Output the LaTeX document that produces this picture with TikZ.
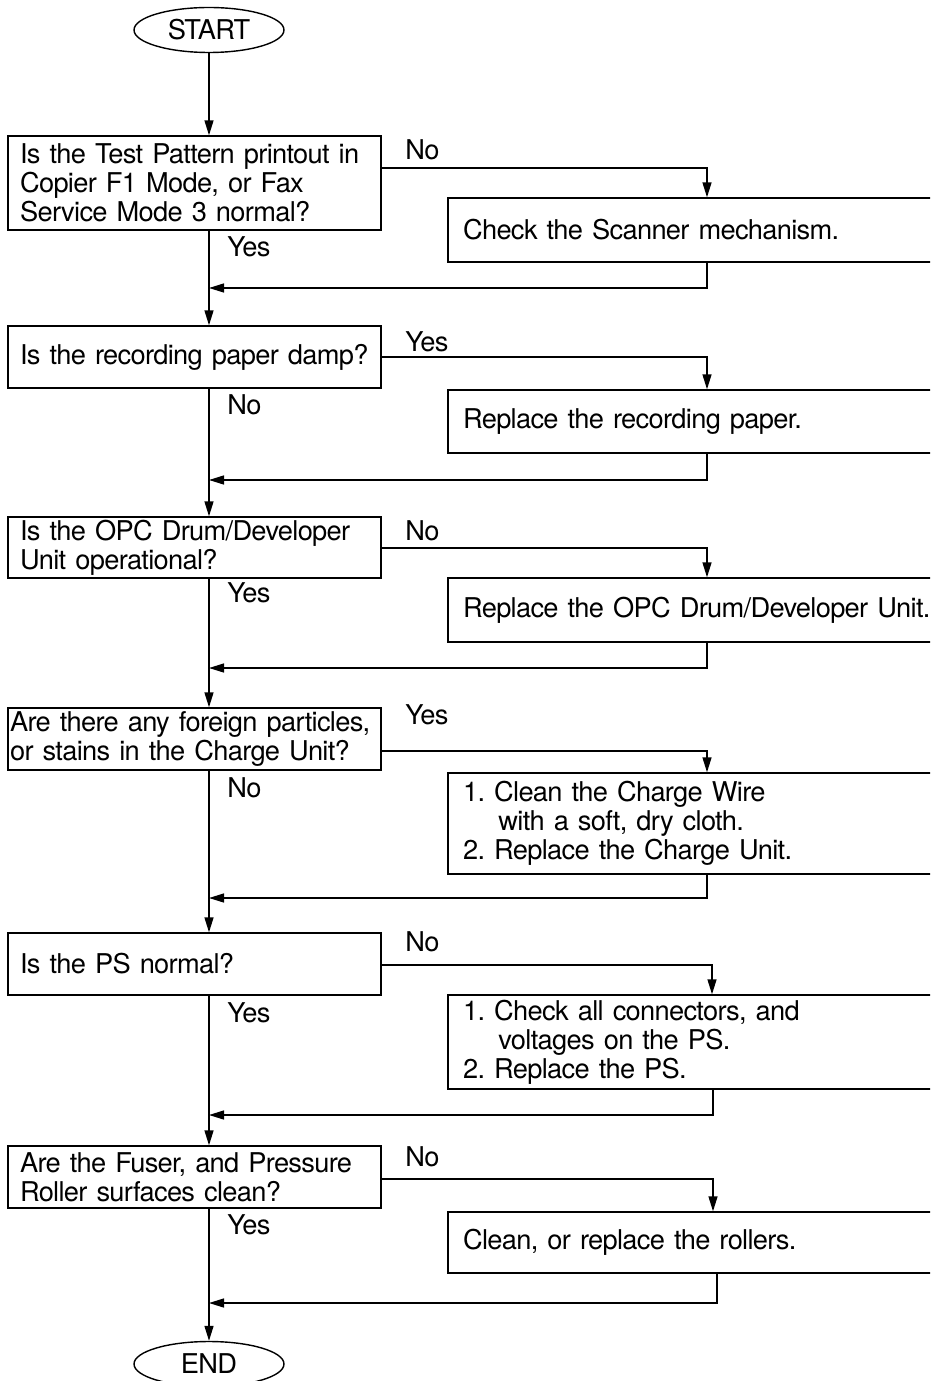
\documentclass[tikz,border=0pt]{standalone}
\usepackage{fontspec}
\setmainfont{TeX Gyre Heros}[LetterSpace=-2.5]
\usetikzlibrary{arrows.meta,shapes.geometric}

\tikzset{
  flow/.style={line width=0.8pt},
  arr/.style={flow,-{Triangle[length=0.3cm,width=0.18cm]}},
  term/.style={draw,flow,ellipse,minimum width=3cm,minimum height=0.9cm,inner sep=0pt},
  qbox/.style={draw,flow,rectangle,inner xsep=0.24cm,inner ysep=0pt,text width=6.98cm,align=left},
  abox/.style={draw,flow,rectangle,inner xsep=0.3cm,inner ysep=0pt,text width=9.64cm,align=left},
  lbl/.style={anchor=west,inner sep=0pt}
}

\begin{document}
\frenchspacing
\begin{tikzpicture}[x=0.02cm,y=-0.02cm,font=\fontsize{15.5}{16.6}\selectfont]
  \clip (0,0) rectangle (930,1381);
  % start and end
  \node[term] (start) at (209,30) {START};
  \node[term] (end) at (209,1364) {END};
  % questions
  \node[qbox,minimum height=1.88cm] (q1) at (194.5,183)
    {Is the Test Pattern printout in\\Copier F1 Mode, or Fax\\Service Mode 3 normal?};
  \node[qbox,minimum height=1.24cm] (q2) at (194.5,357) {Is the recording paper damp?};
  \node[qbox,minimum height=1.22cm] (q3) at (194.5,547.5)
    {Is the OPC Drum/Developer\\Unit operational?};
  \node[qbox,minimum height=1.24cm,inner xsep=0.04cm,text width=7.38cm] (q4) at (194.5,739)
    {Are there any foreign particles,\\or stains in the Charge Unit?};
  \node[qbox,minimum height=1.24cm] (q5) at (194.5,964) {Is the PS normal?};
  \node[qbox,minimum height=1.24cm] (q6) at (194.5,1177)
    {Are the Fuser, and Pressure\\Roller surfaces clean?};
  % actions
  \node[abox,minimum height=1.28cm] (a1) at (704,230) {Check the Scanner mechanism.};
  \node[abox,minimum height=1.26cm] (a2) at (704,421.5) {Replace the recording paper.};
  \node[abox,minimum height=1.28cm] (a3) at (704,610) {Replace the OPC Drum/Developer Unit.};
  \node[abox,minimum height=2.02cm] (a4) at (704,823.5)
    {1. Clean the Charge Wire\\\hspace*{1.3em}with a soft, dry cloth.\\2. Replace the Charge Unit.};
  \node[abox,minimum height=1.88cm] (a5) at (704,1042)
    {1. Check all connectors, and\\\hspace*{1.3em}voltages on the PS.\\2. Replace the PS.};
  \node[abox,minimum height=1.22cm] (a6) at (704,1242.5) {Clean, or replace the rollers.};
  % labels
  \node[lbl] (n1) at (405,150) {No};
  \node[lbl] (y1) at (227,247) {Yes};
  \node[lbl] (y2) at (405,342) {Yes};
  \node[lbl] (n2) at (227,405) {No};
  \node[lbl] (n3) at (405,531) {No};
  \node[lbl] (y3) at (227,593) {Yes};
  \node[lbl] (y4) at (405,715) {Yes};
  \node[lbl] (n4) at (227,788) {No};
  \node[lbl] (n5) at (405,942) {No};
  \node[lbl] (y5) at (227,1013) {Yes};
  \node[lbl] (n6) at (405,1157) {No};
  \node[lbl] (y6) at (227,1225) {Yes};
  % main line
  \draw[arr] (start.south) -- (start.south |- q1.north);
  \draw[arr] (q1.south -| start) -- (q2.north -| start);
  \draw[arr] (q2.south -| start) -- (q3.north -| start);
  \draw[arr] (q3.south -| start) -- (q4.north -| start);
  \draw[arr] (q4.south -| start) -- (q5.north -| start);
  \draw[arr] (q5.south -| start) -- (q6.north -| start);
  \draw[arr] (q6.south -| start) -- (end.north);
  % branches out
  \coordinate (b1) at (707,168);
  \coordinate (b2) at (707,357);
  \coordinate (b3) at (707,548);
  \coordinate (b4) at (707,751);
  \coordinate (b5) at (712,965);
  \coordinate (b6) at (713,1179);
  \draw[arr] (q1.east |- b1) -- (b1) -- (b1 |- a1.north);
  \draw[arr] (q2.east |- b2) -- (b2) -- (b2 |- a2.north);
  \draw[arr] (q3.east |- b3) -- (b3) -- (b3 |- a3.north);
  \draw[arr] (q4.east |- b4) -- (b4) -- (b4 |- a4.north);
  \draw[arr] (q5.east |- b5) -- (b5) -- (b5 |- a5.north);
  \draw[arr] (q6.east |- b6) -- (b6) -- (b6 |- a6.north);
  % branches back
  \coordinate (r1) at (707,288);
  \coordinate (r2) at (707,480);
  \coordinate (r3) at (707,668);
  \coordinate (r4) at (707,898);
  \coordinate (r5) at (713,1115);
  \coordinate (r6) at (717,1303);
  \draw[arr] (r1 |- a1.south) -- (r1) -- (r1 -| start);
  \draw[arr] (r2 |- a2.south) -- (r2) -- (r2 -| start);
  \draw[arr] (r3 |- a3.south) -- (r3) -- (r3 -| start);
  \draw[arr] (r4 |- a4.south) -- (r4) -- (r4 -| start);
  \draw[arr] (r5 |- a5.south) -- (r5) -- (r5 -| start);
  \draw[arr] (r6 |- a6.south) -- (r6) -- (r6 -| start);
\end{tikzpicture}
\end{document}
